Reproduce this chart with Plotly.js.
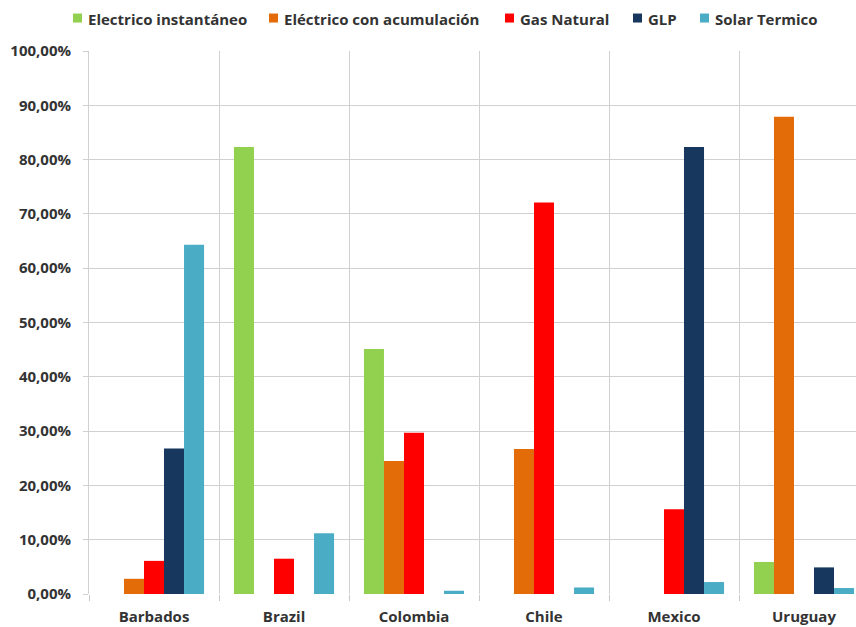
<!DOCTYPE html>
<html>
<head>
<meta charset="utf-8">
<script src="https://cdn.plot.ly/plotly-3.0.1.min.js"></script>
<style>html,body{margin:0;padding:0;background:#fff;}#chart{width:856px;height:627px;}</style>
</head>
<body>
<div id="chart"></div>
<script>
const countries = ["Barbados", "Brazil", "Colombia", "Chile", "Mexico", "Uruguay"];
const seriesNames = ["Electrico instantáneo", "Eléctrico con acumulación", "Gas Natural", "GLP", "Solar Termico"];
const electricoInstantaneo = [0, 82.3, 45.1, 0, 0, 5.9];
const electricoAcumulacion = [2.8, 0, 24.5, 26.7, 0, 87.9];
const gasNatural = [6.1, 6.5, 29.7, 72.1, 15.6, 0];
const glp = [26.8, 0, 0, 0, 82.3, 4.9];
const solarTermico = [64.3, 11.2, 0.6, 1.2, 2.2, 1.1];
const colors = ["#92D050", "#E36C09", "#FF0000", "#17375E", "#4BACC6"];

// legend layout (pixel x of each swatch's left edge)
const legendSwatchX = [73, 269, 505, 633, 700];

const W = 856, H = 627;
const M = {l: 89, r: 0, t: 50.5, b: 33};
const plotW = W - M.l - M.r, plotH = H - M.t - M.b;
const px2paperX = px => (px - M.l) / plotW;
const px2paperY = py => (H - M.b - py) / plotH;

const values = [electricoInstantaneo, electricoAcumulacion, gasNatural, glp, solarTermico];
const traces = values.map((v, i) => ({
  type: "bar",
  name: seriesNames[i],
  x: countries,
  y: v,
  marker: {color: colors[i], line: {width: 0}},
  hoverinfo: "x+y+name"
}));

const legendFont = {family: "Open Sans, sans-serif", size: 15, color: "#333333", weight: "bold"};
const shapes = [];
const annotations = [];
seriesNames.forEach((name, i) => {
  const x0 = legendSwatchX[i];
  shapes.push({
    type: "rect", xref: "paper", yref: "paper",
    x0: px2paperX(x0), x1: px2paperX(x0 + 9),
    y0: px2paperY(22), y1: px2paperY(13),
    fillcolor: colors[i], line: {width: 0}
  });
  annotations.push({
    xref: "paper", yref: "paper",
    x: px2paperX(x0 + 13), y: px2paperY(18),
    xanchor: "left", yanchor: "middle",
    text: name, showarrow: false, font: legendFont
  });
});

const axisFont = {family: "Open Sans, sans-serif", size: 15, color: "#333333", weight: "bold"};

const layout = {
  width: W,
  height: H,
  margin: {l: M.l, r: M.r, t: M.t, b: M.b, pad: 0},
  paper_bgcolor: "#ffffff",
  plot_bgcolor: "#ffffff",
  font: axisFont,
  barmode: "group",
  bargap: 0.23,
  bargroupgap: 0,
  separators: ",.",
  showlegend: false,
  shapes: shapes,
  annotations: annotations,
  xaxis: {
    type: "category",
    range: [-0.5, 5.4],
    tickson: "boundaries",
    ticks: "outside",
    ticklen: 6,
    tickcolor: "#c8c8c8",
    ticklabelstandoff: 12,
    showgrid: true,
    gridcolor: "#d0d0d0",
    gridwidth: 1,
    showline: false,
    zeroline: false,
    automargin: false,
    tickfont: axisFont,
    fixedrange: true
  },
  yaxis: {
    range: [0, 100],
    dtick: 10,
    tick0: 0,
    tickformat: ".2f",
    ticksuffix: "%",
    ticks: "outside",
    ticklen: 5,
    tickcolor: "#d0d0d0",
    ticklabelstandoff: 9,
    showgrid: true,
    gridcolor: "#d0d0d0",
    gridwidth: 1,
    showline: true,
    linecolor: "#d0d0d0",
    linewidth: 1,
    zeroline: false,
    automargin: false,
    tickfont: axisFont,
    fixedrange: true
  }
};

Plotly.newPlot("chart", traces, layout, {displayModeBar: false, staticPlot: true});
</script>
</body>
</html>
